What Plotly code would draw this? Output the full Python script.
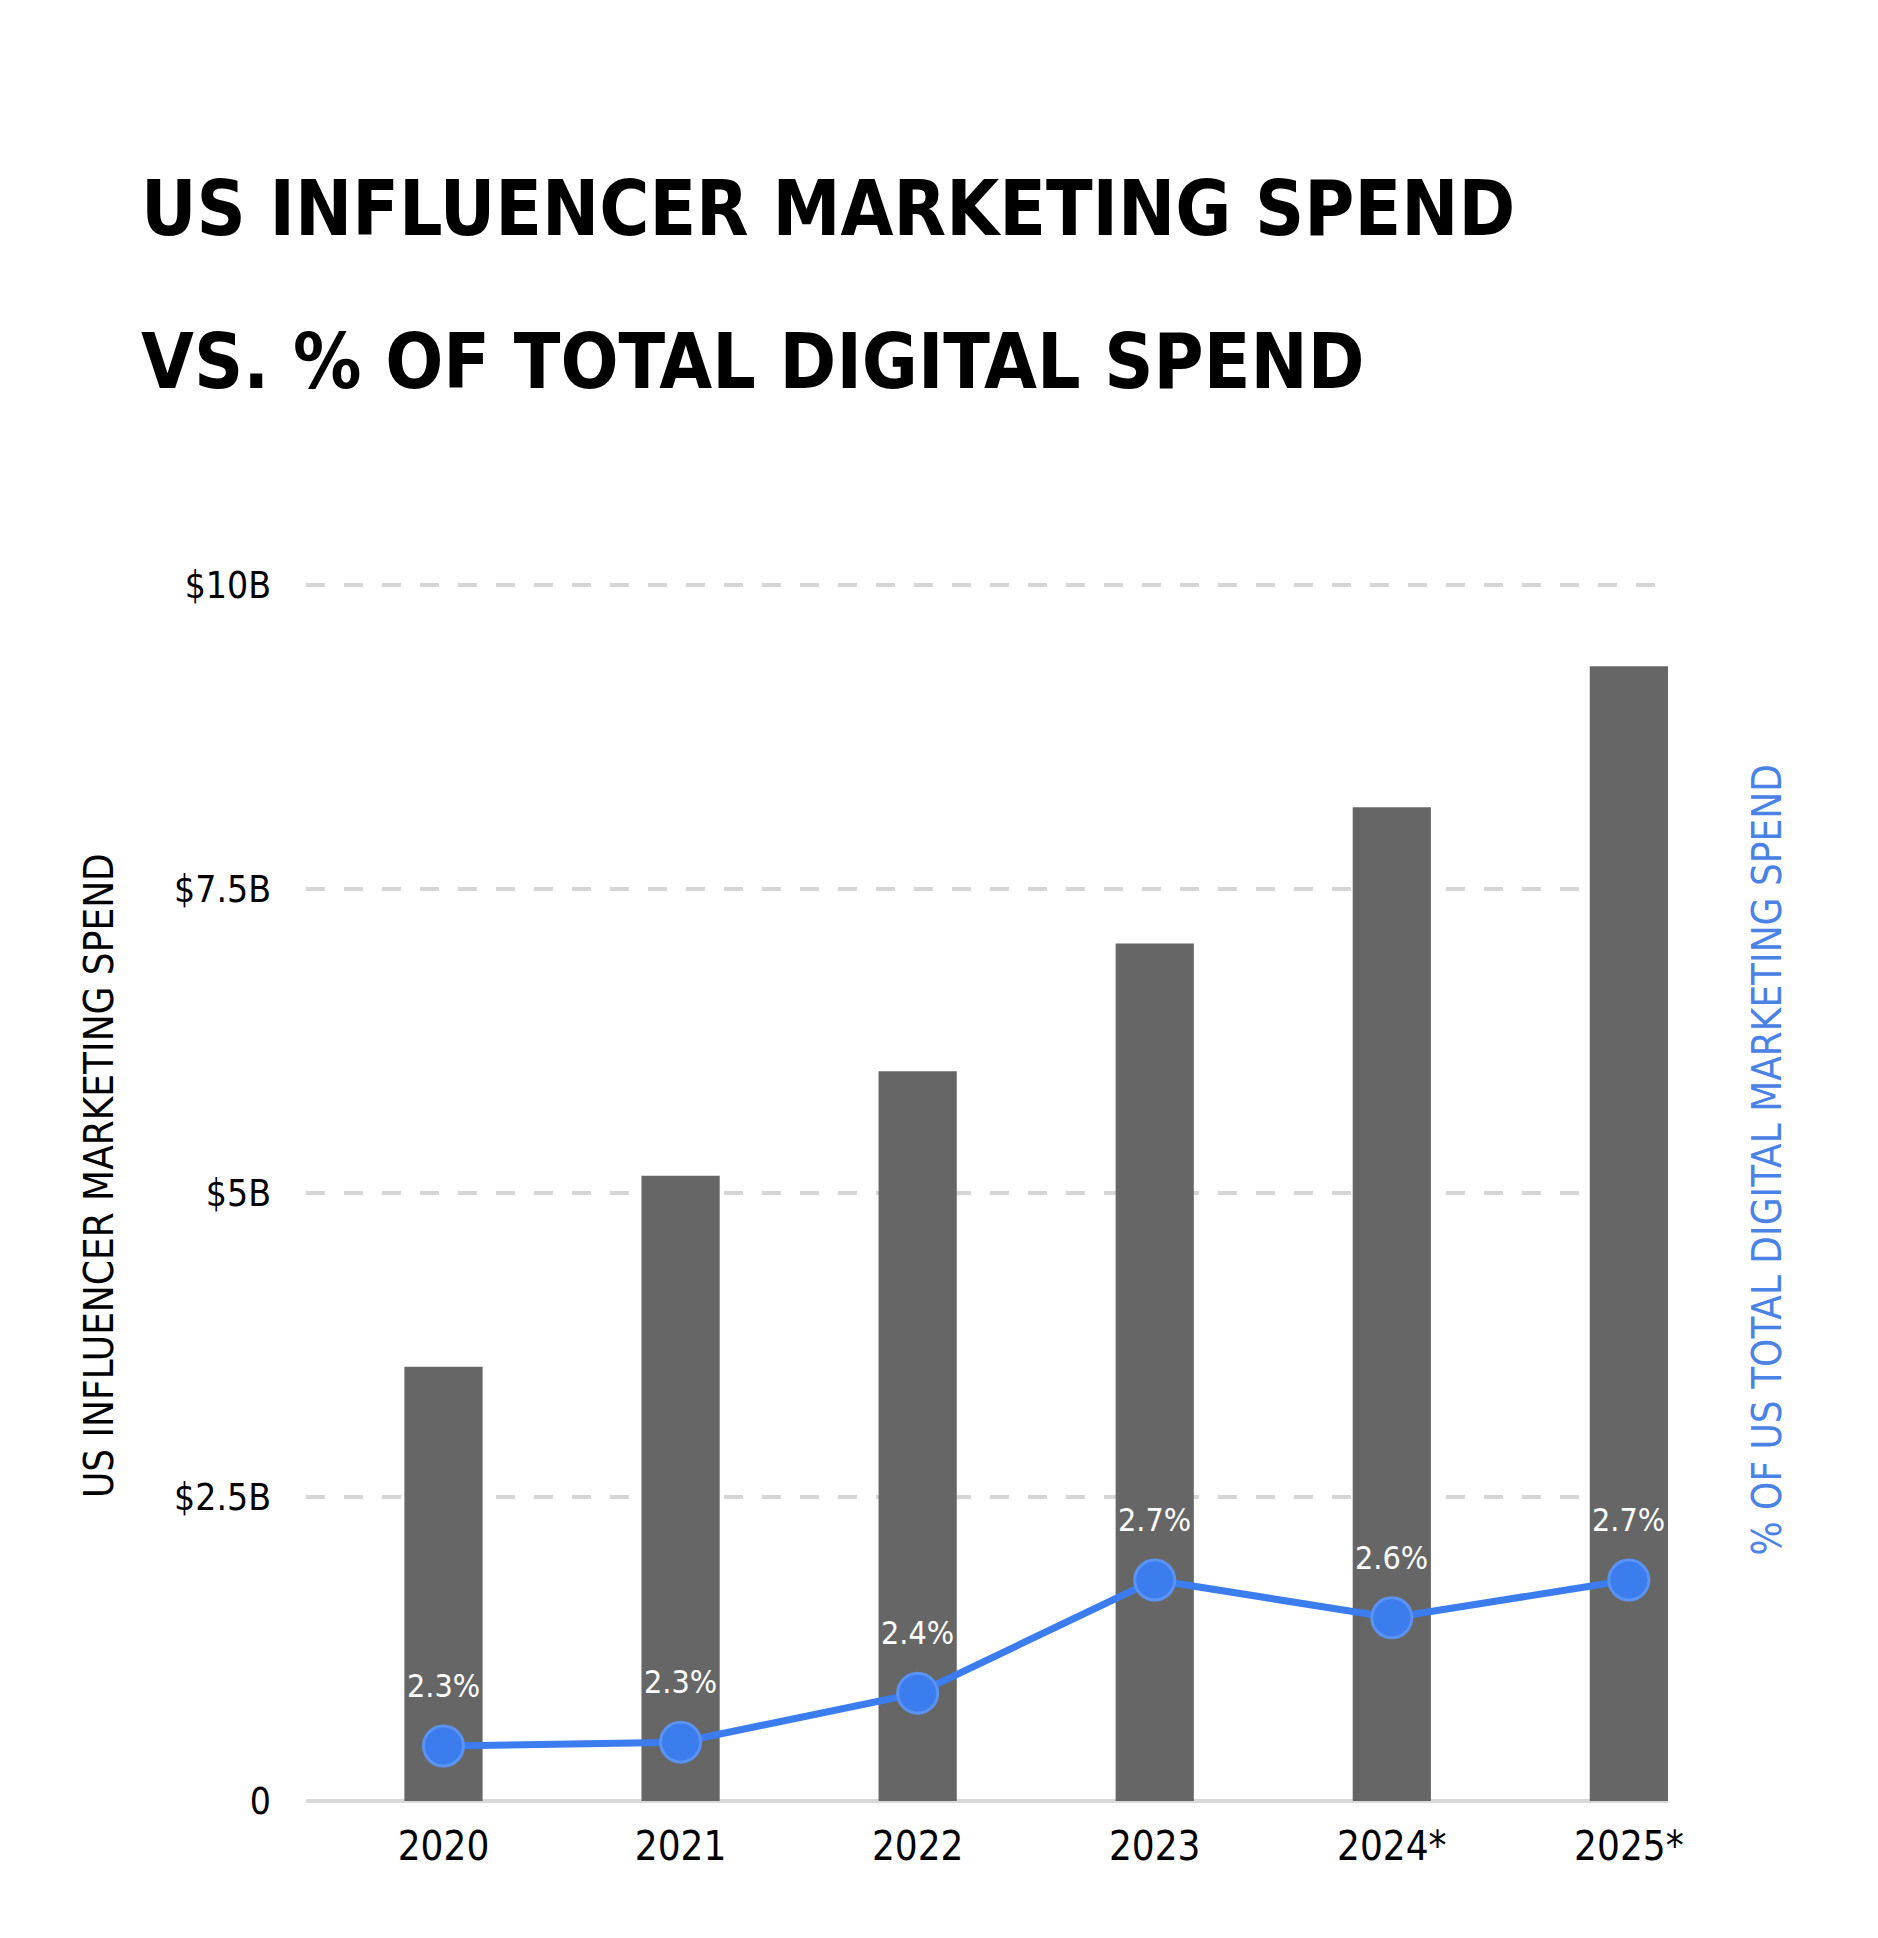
import plotly.graph_objects as go

# ------------------------------------------------------------
# DATA
# ------------------------------------------------------------
years = ["2020", "2021", "2022", "2023", "2024*", "2025*"]
spend_billions = [3.57, 5.14, 6.00, 7.05, 8.17, 9.33]
share_pct = [2.26, 2.27, 2.40, 2.70, 2.60, 2.70]

spend_ticks = [0, 2.5, 5, 7.5, 10]
spend_tick_text = ["0", "$2.5B", "$5B", "$7.5B", "$10B"]

title_lines = ["US INFLUENCER MARKETING SPEND", "VS. % OF TOTAL DIGITAL SPEND"]
left_axis_title = "US INFLUENCER MARKETING SPEND"
right_axis_title = "% OF US TOTAL DIGITAL MARKETING SPEND"

# ------------------------------------------------------------
# STYLE
# ------------------------------------------------------------
FONT = "Liberation Sans Narrow, DejaVu Sans Condensed, Arial Narrow, sans-serif"
BAR_COLOR = "#666666"
BLUE = "#3b7cef"
GRID = "#d6d6d6"

fig = go.Figure()

fig.add_trace(
    go.Bar(
        x=years,
        y=spend_billions,
        width=0.33,
        marker=dict(color=BAR_COLOR, line=dict(width=0)),
        hoverinfo="skip",
        showlegend=False,
    )
)

fig.add_trace(
    go.Scatter(
        x=years,
        y=share_pct,
        yaxis="y2",
        mode="lines+markers",
        line=dict(color=BLUE, width=7),
        marker=dict(size=40, color=BLUE, line=dict(color="#5b93f3", width=3)),
        hoverinfo="skip",
        showlegend=False,
    )
)

# percentage labels above the markers (x as category index so "2020" isn't read as a number)
for i, v in enumerate(share_pct):
    fig.add_annotation(
        x=i, y=v, xref="x", yref="y2",
        text=f"{v:.1f}%", showarrow=False,
        yshift=60,
        font=dict(family=FONT, size=32, color="white"),
    )

# two-line title
for i, line in enumerate(title_lines):
    fig.add_annotation(
        xref="paper", yref="paper",
        x=-0.1226, y=[1.3055, 1.1797][i],
        xanchor="left", yanchor="middle",
        text=line, showarrow=False,
        font=dict(family=FONT, size=76, color="black", weight="bold"),
    )

# axis titles, rotated
fig.add_annotation(
    xref="paper", yref="paper", x=-0.152, y=0.513,
    text=left_axis_title, textangle=-90, showarrow=False,
    xanchor="center", yanchor="middle",
    font=dict(family=FONT, size=40, color="black"),
)
fig.add_annotation(
    xref="paper", yref="paper", x=1.072, y=0.525,
    text=right_axis_title, textangle=-90, showarrow=False,
    xanchor="center", yanchor="middle",
    font=dict(family=FONT, size=40, color="#4a82e6"),
)

fig.update_layout(
    width=1878,
    height=1938,
    margin=dict(l=298, r=218, t=573, b=145),
    paper_bgcolor="white",
    plot_bgcolor="white",
    xaxis=dict(
        type="category",
        range=[-0.58, 5.165],
        showgrid=False,
        showline=False,
        ticks="",
        ticklabelstandoff=18,
        tickfont=dict(family=FONT, size=40, color="black"),
    ),
    yaxis=dict(
        range=[0, 10.03],
        tickvals=spend_ticks,
        ticktext=spend_tick_text,
        showgrid=True,
        gridcolor=GRID,
        gridwidth=4,
        griddash="19px,19px",
        zeroline=True,
        zerolinecolor="#d9d9d9",
        zerolinewidth=4,
        showline=False,
        ticks="",
        ticklabelstandoff=34,
        tickfont=dict(family=FONT, size=37, color="black"),
    ),
    yaxis2=dict(
        overlaying="y",
        side="right",
        range=[2.114, 5.349],
        showgrid=False,
        zeroline=False,
        showline=False,
        showticklabels=False,
        ticks="",
    ),
)

fig.write_html("out.html")
